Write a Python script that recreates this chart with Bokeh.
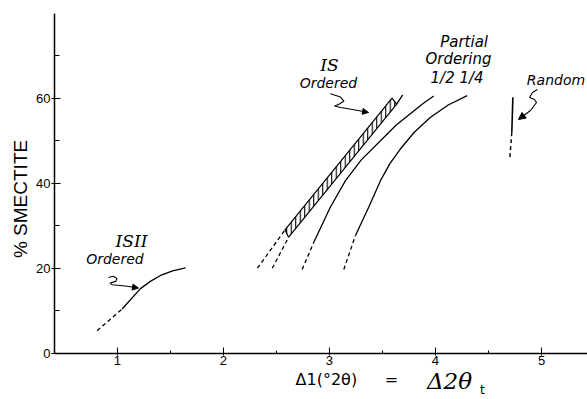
import math
from bokeh.plotting import figure
from bokeh.models import Range1d, FixedTicker, Arrow, NormalHead, ColumnDataSource
from bokeh.core.properties import value
from bokeh.embed import file_html
from bokeh.resources import INLINE

# ---------------- data ----------------
x_ticks = [1, 2, 3, 4, 5]
x_minor = [1.5, 2.5, 3.5, 4.5]
y_ticks = [0, 20, 40, 60]
y_minor = [10, 30, 50, 70]
x_axis_span = (0.406, 5.434)
y_axis_span = (0, 80)

# ISII ordered
isii_dash_x = [0.808, 1.044]
isii_dash_y = [5.3, 10.4]
isii_x = [1.044, 1.217, 1.31, 1.406, 1.52, 1.642]
isii_y = [10.4, 15.2, 16.9, 18.3, 19.35, 20.1]

# IS ordered band (two edges)
band_left_x = [2.58, 3.59]
band_left_y = [29.0, 60.0]
band_right_x = [2.615, 3.634]
band_right_y = [27.3, 58.6]
band_left_dash_x = [2.32, 2.58]
band_left_dash_y = [20.0, 29.0]
band_right_dash_x = [2.46, 2.615]
band_right_dash_y = [20.0, 27.3]
band_top_x = [3.634, 3.69]
band_top_y = [58.6, 60.8]

# Partial ordering 1/2
half_dash_x = [2.742, 2.852]
half_dash_y = [19.7, 26.1]
half_x = [2.852, 3.009, 3.151, 3.30, 3.481, 3.63, 3.780, 3.88, 3.984]
half_y = [26.1, 34.4, 40.6, 45.5, 50.0, 53.7, 56.7, 58.7, 60.5]

# Partial ordering 1/4
quarter_dash_x = [3.135, 3.245]
quarter_dash_y = [19.7, 27.7]
quarter_x = [3.245, 3.371, 3.481, 3.57, 3.670, 3.80, 3.953, 4.12, 4.299]
quarter_y = [27.7, 34.4, 40.6, 44.6, 48.1, 52.0, 55.5, 58.4, 60.6]

# Random
random_x = [4.73, 4.72]
random_y = [60.2, 52.0]
random_dash_x = [4.72, 4.70]
random_dash_y = [52.0, 45.5]

# annotation pointers (squiggles)
isii_ptr_x = [0.915, 0.96, 0.995, 0.985, 0.93, 0.95, 1.075, 1.198]
isii_ptr_y = [17.8, 18.1, 17.6, 16.9, 16.5, 16.1, 15.8, 15.34]
is_ptr_x = [3.009, 3.104, 3.137, 3.085, 3.047, 3.104, 3.245, 3.368]
is_ptr_y = [61.04, 60.28, 59.34, 58.52, 58.16, 57.81, 57.22, 56.64]
rnd_ptr_x = [4.962, 4.915, 4.887, 4.934, 4.953, 4.896, 4.783]
rnd_ptr_y = [62.05, 61.34, 60.16, 59.69, 58.99, 57.11, 55.0]

# annotation texts
serif_texts = ["ISII", "IS"]
serif_x = [1.132, 3.0]
serif_y = [26.5, 67.7]
ordered_texts = ["Ordered", "Ordered"]
ordered_x = [0.976, 2.99]
ordered_y = [22.1, 63.6]
partial_texts = ["Partial", "Ordering", "1/2  1/4"]
partial_x = [4.27, 4.217, 4.226]
partial_y = [73.3, 69.2, 64.8]
random_label = "Random"
random_label_x = 4.862
random_label_y = 64.4

y_title = "% SMECTITE"
x_title_a = "Δ1(°2θ)"
x_title_eq = "="
x_title_b = "Δ2θ"
x_title_sub = "t"

# ---------------- figure ----------------
W, H = 587, 399
p = figure(width=W, height=H, output_backend="svg", toolbar_location=None,
           x_range=Range1d(-0.1034, 5.434), y_range=Range1d(-10.89, 82.99),
           min_border_left=0, min_border_right=0, min_border_top=0, min_border_bottom=0)
p.grid.visible = False
p.outline_line_color = None
p.background_fill_color = "white"
p.border_fill_color = "white"

xa = p.xaxis[0]
xa.fixed_location = 0
xa.bounds = x_axis_span
xa.ticker = FixedTicker(ticks=x_ticks, minor_ticks=x_minor)
xa.major_tick_in = 6
xa.major_tick_out = 2
xa.minor_tick_in = 3
xa.minor_tick_out = 0
xa.major_label_standoff = 1
xa.major_label_text_font = "Liberation Sans"
xa.major_label_text_font_size = "13px"
xa.major_label_text_color = "black"
xa.axis_line_width = 1.3
xa.axis_line_color = "black"
xa.major_tick_line_color = "black"
xa.minor_tick_line_color = "black"

ya = p.yaxis[0]
ya.fixed_location = x_axis_span[0]
ya.bounds = y_axis_span
ya.ticker = FixedTicker(ticks=y_ticks, minor_ticks=y_minor)
ya.major_tick_in = 6
ya.major_tick_out = 3
ya.minor_tick_in = 5
ya.minor_tick_out = 0
ya.major_label_standoff = 1
ya.major_label_text_font = "Liberation Sans"
ya.major_label_text_font_size = "13px"
ya.major_label_text_color = "black"
ya.axis_line_width = 1.5
ya.axis_line_color = "black"
ya.major_tick_line_color = "black"
ya.minor_tick_line_color = "black"

LW = 1.3
DASH = "4 3"

# ISII
p.line(isii_dash_x, isii_dash_y, line_color="black", line_width=LW, line_dash=DASH)
p.line(isii_x, isii_y, line_color="black", line_width=LW)

# IS band
bx = band_left_x + band_right_x[::-1]
by = band_left_y + band_right_y[::-1]
p.patch(bx, by, fill_color="white", line_color="black", line_width=1.2,
        hatch_pattern="|", hatch_scale=4.5, hatch_weight=1.1, hatch_color="black")
p.line(band_left_dash_x, band_left_dash_y, line_color="black", line_width=LW, line_dash=DASH)
p.line(band_right_dash_x, band_right_dash_y, line_color="black", line_width=LW, line_dash=DASH)
p.line(band_top_x, band_top_y, line_color="black", line_width=LW)

# 1/2 and 1/4
p.line(half_dash_x, half_dash_y, line_color="black", line_width=LW, line_dash=DASH)
p.line(half_x, half_y, line_color="black", line_width=LW)
p.line(quarter_dash_x, quarter_dash_y, line_color="black", line_width=LW, line_dash=DASH)
p.line(quarter_x, quarter_y, line_color="black", line_width=LW)

# Random
p.line(random_x, random_y, line_color="black", line_width=1.6)
p.line(random_dash_x, random_dash_y, line_color="black", line_width=1.4, line_dash=DASH)

# pointers
for px_, py_, hs in [(isii_ptr_x, isii_ptr_y, 6), (is_ptr_x, is_ptr_y, 6), (rnd_ptr_x, rnd_ptr_y, 7)]:
    p.line(px_[:-1], py_[:-1], line_color="black", line_width=1.1)
    p.add_layout(Arrow(end=NormalHead(size=hs, fill_color="black", line_color="black", line_width=1),
                       x_start=px_[-2], y_start=py_[-2], x_end=px_[-1], y_end=py_[-1],
                       line_color="black", line_width=1.1))

# annotation texts
src_serif = ColumnDataSource(dict(x=serif_x, y=serif_y, t=serif_texts))
p.text(x="x", y="y", text="t", source=src_serif, text_font=value("DejaVu Serif"),
       text_font_style="italic", text_font_size="17px", text_align="center",
       text_baseline="middle", text_color="black")
src_ord = ColumnDataSource(dict(x=ordered_x, y=ordered_y, t=ordered_texts))
p.text(x="x", y="y", text="t", source=src_ord, text_font=value("DejaVu Sans"),
       text_font_style="italic", text_font_size="14px", text_align="center",
       text_baseline="middle", text_color="black")
src_par = ColumnDataSource(dict(x=partial_x, y=partial_y, t=partial_texts))
p.text(x="x", y="y", text="t", source=src_par, text_font=value("DejaVu Sans"),
       text_font_style="italic", text_font_size="15px", text_align="center",
       text_baseline="middle", text_color="black")
p.text(x=[random_label_x], y=[random_label_y], text=[random_label], text_font=value("DejaVu Sans"),
       text_font_style="italic", text_font_size="14px", text_align="left",
       text_baseline="middle", text_color="black")

# axis titles
p.text(x=[0.085], y=[36.3], text=[y_title], angle=math.pi / 2,
       text_font=value("Liberation Sans"), text_font_size="19px",
       text_align="center", text_baseline="middle", text_color="black")
p.text(x=[2.68], y=[-6.3], text=[x_title_a], text_font=value("DejaVu Sans"),
       text_font_size="16px", text_align="left", text_baseline="middle", text_color="black")
p.text(x=[3.585], y=[-6.1], text=[x_title_eq], text_font=value("DejaVu Sans"),
       text_font_size="16px", text_align="center", text_baseline="middle", text_color="black")
p.text(x=[3.92], y=[-6.6], text=[x_title_b], text_font=value("DejaVu Serif"),
       text_font_style="italic", text_font_size="23px", text_align="left",
       text_baseline="middle", text_color="black")
p.text(x=[4.42], y=[-8.6], text=[x_title_sub], text_font=value("DejaVu Sans"),
       text_font_size="12px", text_align="left", text_baseline="middle", text_color="black")

open("out.html", "w").write(file_html(p, INLINE))
